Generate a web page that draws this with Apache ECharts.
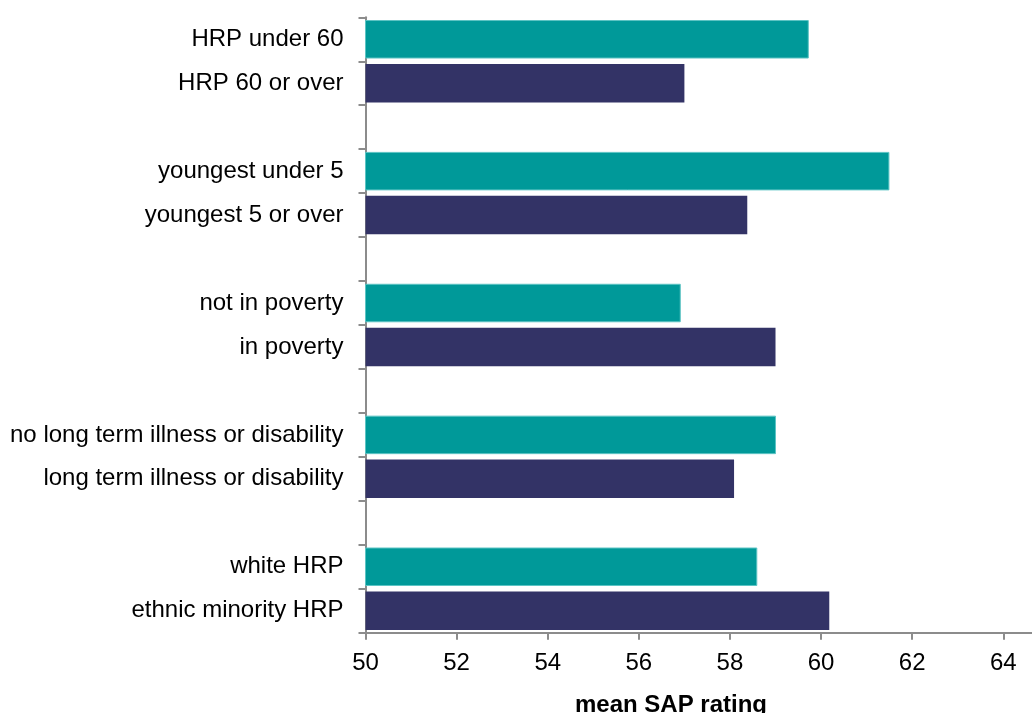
<!DOCTYPE html>
<html>
<head>
<meta charset="utf-8">
<script src="https://cdn.jsdelivr.net/npm/echarts@6/dist/echarts.min.js"></script>
<style>
  html, body { margin: 0; padding: 0; background: #fff; }
  #myChart { width: 1032px; height: 713px; }
</style>
</head>
<body>
<div id="myChart"></div>
<script>
// rows from top to bottom, empty strings are the gaps between groups
const categories = [
  'HRP under 60', 'HRP 60 or over', '',
  'youngest under 5', 'youngest 5 or over', '',
  'not in poverty', 'in poverty', '',
  'no long term illness or disability', 'long term illness or disability', '',
  'white HRP', 'ethnic minority HRP'
]
// first row of each pair (teal)
const firstValues = [59.73, null, null, 61.5, null, null, 56.92, null, null, 59.01, null, null, 58.6, null]
// second row of each pair (navy)
const secondValues = [null, 57.0, null, null, 58.38, null, null, 59.0, null, null, 58.09, null, null, 60.18]
// the axis runs off the right edge of the picture
const xTicks = { min: 50, max: 64.63, interval: 2 }

const font = 'Liberation Sans, Arial, sans-serif'
const axisGrey = '#8c8c8c'

const myChart = echarts.init(document.getElementById('myChart'))
myChart.setOption({
  animation: false,
  title: {
    text: 'mean SAP rating',
    left: 666,
    top: 688,
    textAlign: 'center',
    textStyle: { fontFamily: font, fontSize: 24, fontWeight: 'bold', color: '#000' }
  },
  grid: {
    left: 365.5,
    top: 17.3,
    right: 0,
    height: 615.4,
    containLabel: false
  },
  xAxis: {
    type: 'value',
    min: xTicks.min,
    max: xTicks.max,
    interval: xTicks.interval,
    axisLine: { show: true, lineStyle: { color: axisGrey, width: 2 } },
    axisTick: { show: true, length: 7, lineStyle: { color: axisGrey, width: 2 } },
    axisLabel: { margin: 19, fontFamily: font, fontSize: 24, color: '#000', showMaxLabel: false },
    splitLine: { show: false }
  },
  yAxis: {
    type: 'category',
    inverse: true,
    data: categories,
    axisLine: { show: true, lineStyle: { color: axisGrey, width: 2 } },
    axisTick: { show: true, length: 7, lineStyle: { color: axisGrey, width: 2 } },
    axisLabel: { margin: 22, fontFamily: font, fontSize: 24, color: '#000', interval: 0 }
  },
  series: [
    {
      name: 'first',
      type: 'bar',
      data: firstValues,
      barWidth: 38.5,
      barGap: '-100%',
      itemStyle: { color: '#009999', borderColor: '#5cc4c4', borderWidth: 1 }
    },
    {
      name: 'second',
      type: 'bar',
      data: secondValues,
      barWidth: 38.5,
      barGap: '-100%',
      itemStyle: { color: '#333366' }
    }
  ]
})
</script>
</body>
</html>
